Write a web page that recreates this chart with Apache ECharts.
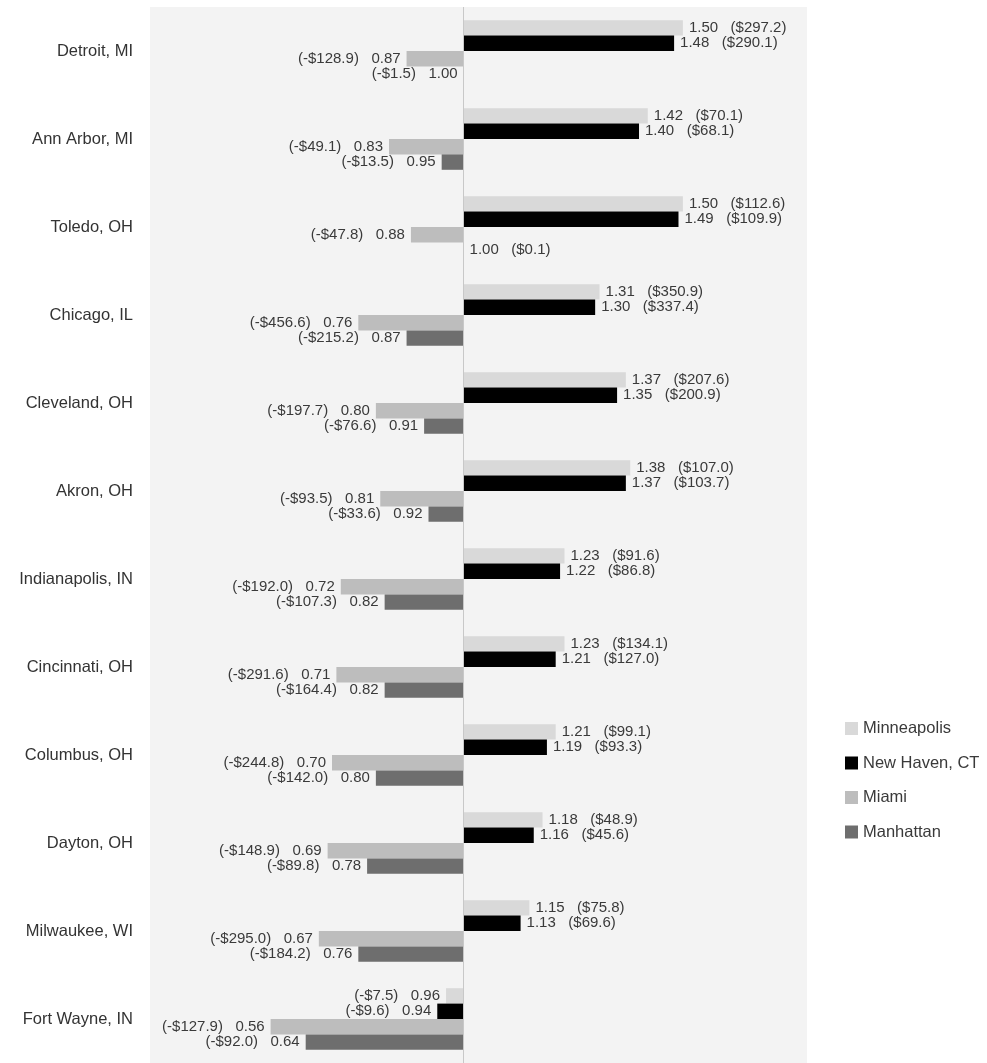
<!DOCTYPE html>
<html>
<head>
<meta charset="utf-8">
<script src="https://cdn.jsdelivr.net/npm/echarts@6/dist/echarts.min.js"></script>
<style>
html,body{margin:0;padding:0;background:#fff;}
#chart{width:987px;height:1063px;}
</style>
</head>
<body>
<div id="chart"></div>
<script>
const categories = ["Detroit, MI","Ann Arbor, MI","Toledo, OH","Chicago, IL","Cleveland, OH","Akron, OH","Indianapolis, IN","Cincinnati, OH","Columbus, OH","Dayton, OH","Milwaukee, WI","Fort Wayne, IN"];
const seriesNames = ["Minneapolis","New Haven, CT","Miami","Manhattan"];

// ratio values (displayed)
const minneapolisRatio = [1.50,1.42,1.50,1.31,1.37,1.38,1.23,1.23,1.21,1.18,1.15,0.96];
const newHavenRatio    = [1.48,1.40,1.49,1.30,1.35,1.37,1.22,1.21,1.19,1.16,1.13,0.94];
const miamiRatio       = [0.87,0.83,0.88,0.76,0.80,0.81,0.72,0.71,0.70,0.69,0.67,0.56];
const manhattanRatio   = [1.00,0.95,1.00,0.87,0.91,0.92,0.82,0.82,0.80,0.78,0.76,0.64];

// dollar amounts (displayed, in parentheses)
const minneapolisDollar = [297.2,70.1,112.6,350.9,207.6,107.0,91.6,134.1,99.1,48.9,75.8,-7.5];
const newHavenDollar    = [290.1,68.1,109.9,337.4,200.9,103.7,86.8,127.0,93.3,45.6,69.6,-9.6];
const miamiDollar       = [-128.9,-49.1,-47.8,-456.6,-197.7,-93.5,-192.0,-291.6,-244.8,-148.9,-295.0,-127.9];
const manhattanDollar   = [-1.5,-13.5,0.1,-215.2,-76.6,-33.6,-107.3,-164.4,-142.0,-89.8,-184.2,-92.0];

const ratios = [minneapolisRatio,newHavenRatio,miamiRatio,manhattanRatio];
const dollars = [minneapolisDollar,newHavenDollar,miamiDollar,manhattanDollar];
const colors = ["#d9d9d9","#000000","#bdbdbd","#6e6e6e"];

const BASE = 1.0;
const FONT = "'Liberation Sans', Arial, Helvetica, sans-serif";

function fmtDollar(d){
  return d < 0 ? "(-$" + Math.abs(d).toFixed(1) + ")" : "($" + d.toFixed(1) + ")";
}

const series = seriesNames.map((name, s) => ({
  name: name,
  type: "bar",
  barGap: "0%",
  barCategoryGap: "30%",
  itemStyle: { color: colors[s] },
  data: ratios[s].map((r, i) => {
    const d = dollars[s][i];
    const neg = d < 0;
    return {
      value: +(r - BASE).toFixed(4),
      label: {
        show: true,
        position: neg ? "left" : "right",
        distance: 6,
        color: "#3a3a3a",
        fontSize: 15,
        fontFamily: FONT,
        formatter: neg ? (fmtDollar(d) + "   " + r.toFixed(2)) : (r.toFixed(2) + "   " + fmtDollar(d))
      }
    };
  }),
  markLine: s === 0 ? {
    silent: true,
    symbol: "none",
    label: { show: false },
    lineStyle: { color: "#c8c8c8", width: 1, type: "solid" },
    data: [{ xAxis: 0 }]
  } : undefined
}));

const chart = echarts.init(document.getElementById("chart"), null, { renderer: "canvas" });
chart.setOption({
  animation: false,
  backgroundColor: "#ffffff",
  grid: {
    left: 150, top: 7, width: 657, height: 1060,
    show: true, backgroundColor: "#f3f3f3", borderWidth: 0
  },
  legend: {
    orient: "vertical",
    left: 840,
    top: 715,
    itemWidth: 13,
    itemHeight: 13,
    itemGap: 17.5,
    icon: "rect",
    textStyle: { fontSize: 16.5, color: "#3a3a3a", fontFamily: FONT },
    data: seriesNames
  },
  xAxis: {
    type: "value",
    min: 0.285 - BASE,
    max: 1.783 - BASE,
    show: false,
    splitLine: { show: false }
  },
  yAxis: {
    type: "category",
    inverse: true,
    data: categories,
    axisLine: { show: false },
    axisTick: { show: false },
    axisLabel: { fontSize: 16.5, color: "#333333", margin: 17, fontFamily: FONT }
  },
  series: series
});
</script>
</body>
</html>
